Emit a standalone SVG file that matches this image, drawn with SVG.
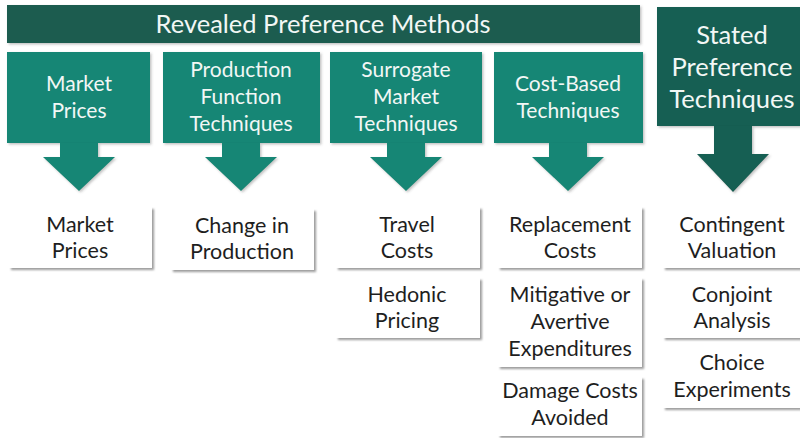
<svg xmlns="http://www.w3.org/2000/svg" width="800" height="438" viewBox="0 0 800 438">
  <style>
    .banner { fill: #1a5b50; }
    .method { fill: #178675; }
    .stated { fill: #185e52; }
    .card { fill: #ffffff; }
    .hdr { font-family: Lato, "Open Sans", sans-serif; fill: #f2f7f5; text-anchor: middle; }
    .item { font-family: Lato, "Open Sans", sans-serif; font-size: 21.5px; fill: #1e1e1e; text-anchor: middle; }
  </style>
  <defs>
    <filter id="shade" x="-10%" y="-10%" width="125%" height="130%">
      <feDropShadow dx="2" dy="2" stdDeviation="1.2" flood-color="#7a7a7a" flood-opacity="0.75"/>
    </filter>
    <filter id="soft" x="-10%" y="-10%" width="125%" height="130%">
      <feDropShadow dx="1.5" dy="1.5" stdDeviation="1.2" flood-color="#555" flood-opacity="0.35"/>
    </filter>
    <!-- block arrow pointing down, centred on x=0, top at y=0 -->
    <path id="down" d="M-19,0 H19 V14 H36 L0,48 L-36,14 H-19 Z"/>
  </defs>
  <rect width="800" height="438" fill="#ffffff"/>

  <!-- banner -->
  <g id="revealed">
    <rect class="banner" x="7" y="5" width="633" height="38" filter="url(#soft)"/>
    <text class="hdr" x="323" y="33" font-size="25.5">Revealed Preference Methods</text>
  </g>

  <!-- method headers -->
  <g id="market-prices-method">
    <rect class="method" x="7" y="52" width="143" height="91" filter="url(#soft)"/>
    <text class="hdr" font-size="21" x="79" y="91">Market</text>
    <text class="hdr" font-size="21" x="79" y="118">Prices</text>
  </g>
  <g id="production-function">
    <rect class="method" x="163" y="52" width="157" height="91" filter="url(#soft)"/>
    <text class="hdr" font-size="21" x="241" y="77">Production</text>
    <text class="hdr" font-size="21" x="241" y="104">Function</text>
    <text class="hdr" font-size="21" x="241" y="131">Techniques</text>
  </g>
  <g id="surrogate-market">
    <rect class="method" x="330" y="52" width="152" height="91" filter="url(#soft)"/>
    <text class="hdr" font-size="21" x="406" y="77">Surrogate</text>
    <text class="hdr" font-size="21" x="406" y="104">Market</text>
    <text class="hdr" font-size="21" x="406" y="131">Techniques</text>
  </g>
  <g id="cost-based">
    <rect class="method" x="494" y="52" width="149" height="91" filter="url(#soft)"/>
    <text class="hdr" font-size="21" x="568" y="91">Cost-Based</text>
    <text class="hdr" font-size="21" x="568" y="118">Techniques</text>
  </g>
  <g id="stated-preference">
    <rect class="stated" x="657" y="7" width="150" height="119" filter="url(#soft)"/>
    <text class="hdr" font-size="25.5" x="732" y="44">Stated</text>
    <text class="hdr" font-size="25.5" x="732" y="76">Preference</text>
    <text class="hdr" font-size="25.5" x="732" y="108">Techniques</text>
  </g>

  <!-- connectors -->
  <g id="connectors" filter="url(#soft)">
    <use href="#down" class="method" x="79" y="143"/>
    <use href="#down" class="method" x="241" y="143"/>
    <use href="#down" class="method" x="406" y="143"/>
    <use href="#down" class="method" x="568" y="143"/>
    <path class="stated" d="M714,126 H752 V154 H769 L733,192 L697,154 H714 Z"/>
  </g>

  <!-- techniques -->
  <g id="market-prices">
    <rect class="card" x="9" y="207" width="143" height="61" filter="url(#shade)"/>
    <text class="item" x="80" y="232">Market</text>
    <text class="item" x="80" y="258">Prices</text>
  </g>
  <g id="change-in-production">
    <rect class="card" x="171" y="209" width="143" height="61" filter="url(#shade)"/>
    <text class="item" x="242" y="233">Change in</text>
    <text class="item" x="242" y="259">Production</text>
  </g>
  <g id="travel-costs">
    <rect class="card" x="336" y="207" width="144" height="61" filter="url(#shade)"/>
    <text class="item" x="407" y="232">Travel</text>
    <text class="item" x="407" y="258">Costs</text>
  </g>
  <g id="hedonic-pricing">
    <rect class="card" x="336" y="278" width="144" height="60" filter="url(#shade)"/>
    <text class="item" x="407" y="302">Hedonic</text>
    <text class="item" x="407" y="328">Pricing</text>
  </g>
  <g id="replacement-costs">
    <rect class="card" x="498" y="207" width="144" height="61" filter="url(#shade)"/>
    <text class="item" x="570" y="232">Replacement</text>
    <text class="item" x="570" y="258">Costs</text>
  </g>
  <g id="mitigative-expenditures">
    <rect class="card" x="498" y="278" width="144" height="89" filter="url(#shade)"/>
    <text class="item" x="570" y="302">Mitigative or</text>
    <text class="item" x="570" y="329">Avertive</text>
    <text class="item" x="570" y="356">Expenditures</text>
  </g>
  <g id="damage-costs">
    <rect class="card" x="498" y="377" width="144" height="59" filter="url(#shade)"/>
    <text class="item" x="570" y="398">Damage Costs</text>
    <text class="item" x="570" y="425">Avoided</text>
  </g>
  <g id="contingent-valuation">
    <rect class="card" x="663" y="207" width="150" height="61" filter="url(#shade)"/>
    <text class="item" x="732" y="232">Contingent</text>
    <text class="item" x="732" y="258">Valuation</text>
  </g>
  <g id="conjoint-analysis">
    <rect class="card" x="663" y="278" width="150" height="60" filter="url(#shade)"/>
    <text class="item" x="732" y="302">Conjoint</text>
    <text class="item" x="732" y="328">Analysis</text>
  </g>
  <g id="choice-experiments">
    <rect class="card" x="663" y="346" width="150" height="62" filter="url(#shade)"/>
    <text class="item" x="732" y="370">Choice</text>
    <text class="item" x="732" y="397">Experiments</text>
  </g>
</svg>
